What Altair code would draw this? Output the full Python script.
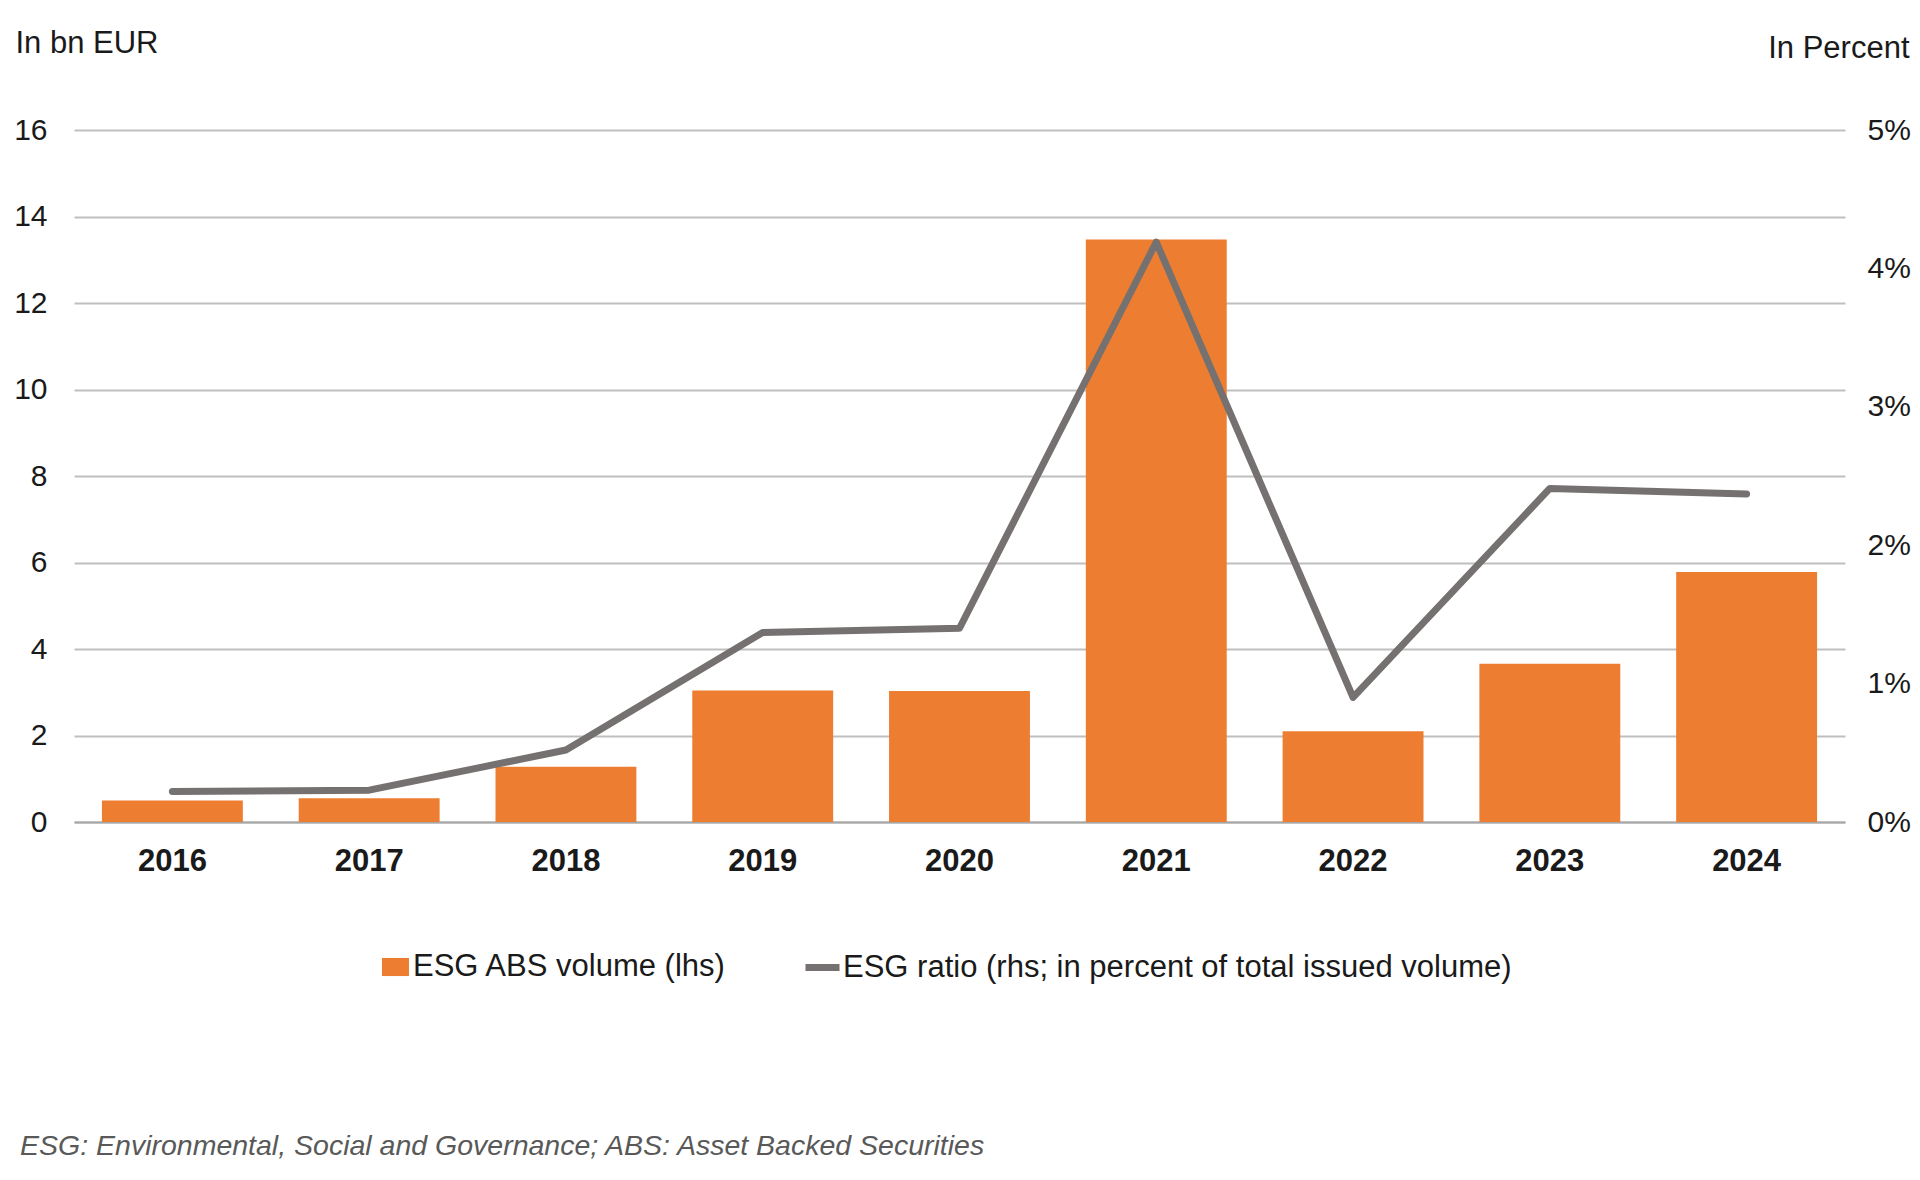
import altair as alt
import pandas as pd

years = ["2016", "2017", "2018", "2019", "2020", "2021", "2022", "2023", "2024"]
volume = [0.50, 0.55, 1.28, 3.04, 3.03, 13.47, 2.10, 3.66, 5.78]
ratio = [0.22, 0.23, 0.52, 1.37, 1.40, 4.19, 0.90, 2.41, 2.37]
left_ticks = [0, 2, 4, 6, 8, 10, 12, 14, 16]
right_ticks = [0, 1, 2, 3, 4, 5]
bar_name = "ESG ABS volume (lhs)"
line_name = "ESG ratio (rhs; in percent of total issued volume)"
left_title = "In bn EUR"
right_title = "In Percent"
footnote = "ESG: Environmental, Social and Governance; ABS: Asset Backed Securities"

df = pd.DataFrame({
    "year": years,
    "volume": volume,
    "ratio": ratio,
    "bar_series": [bar_name] * len(years),
    "line_series": [line_name] * len(years),
})

FONT = "Liberation Sans"
TXT = "#1a1a1a"
W, H = 1771, 692

x = alt.X(
    "year:N", sort=years,
    scale=alt.Scale(paddingInner=0.284, paddingOuter=0.142),
    axis=alt.Axis(
        title=None, labelFont=FONT, labelFontSize=31, labelFontWeight="bold",
        labelColor=TXT, labelAngle=0, ticks=False, tickSize=0, labelPadding=48,
        labelBaseline="alphabetic", domain=True, domainColor="#A6A6A6",
        domainWidth=2, grid=False,
    ),
)

bars = alt.Chart(df).mark_bar(color="#ED7D31").encode(
    x=x,
    y=alt.Y(
        "volume:Q",
        scale=alt.Scale(domain=[0, 16], nice=False),
        axis=alt.Axis(
            values=left_ticks, title=left_title, titleAngle=0, titleAlign="left",
            titleBaseline="alphabetic", titleX=-59, titleY=-78, titleFont=FONT,
            titleFontSize=31, titleFontWeight="normal", titleColor=TXT,
            labelFont=FONT, labelFontSize=30, labelColor=TXT, labelPadding=27,
            ticks=False, tickSize=0, domain=False, grid=True,
            gridColor="#BFBFBF", gridWidth=2,
        ),
    ),
    fill=alt.Fill(
        "bar_series:N",
        scale=alt.Scale(domain=[bar_name], range=["#ED7D31"]),
        legend=alt.Legend(
            title=None, orient="none", legendX=306, legendY=821.5,
            symbolType="M-1,-0.67H1V0.67H-1Z", symbolSize=729,
            symbolStrokeWidth=0, labelFont=FONT, labelFontSize=31,
            labelColor=TXT, labelOffset=2, padding=0, labelLimit=0,
        ),
    ),
)

line = alt.Chart(df).mark_line(
    strokeWidth=7, strokeCap="round", strokeJoin="round"
).encode(
    x=x,
    y=alt.Y(
        "ratio:Q",
        scale=alt.Scale(domain=[0, 5], nice=False),
        axis=alt.Axis(
            orient="right", values=right_ticks, labelExpr="datum.value + '%'",
            title=right_title, titleAngle=0, titleAlign="right",
            titleBaseline="alphabetic", titleX=64, titleY=-73, titleFont=FONT,
            titleFontSize=31, titleFontWeight="normal", titleColor=TXT,
            labelFont=FONT, labelFontSize=30, labelColor=TXT, labelPadding=22,
            labelAlign="left", ticks=False, tickSize=0, domain=False, grid=False,
        ),
    ),
    stroke=alt.Stroke(
        "line_series:N",
        scale=alt.Scale(domain=[line_name], range=["#767171"]),
        legend=alt.Legend(
            title=None, orient="none", legendX=728, legendY=817,
            symbolType="stroke", symbolSize=1156, symbolStrokeWidth=7,
            labelFont=FONT, labelFontSize=31, labelColor=TXT, labelOffset=0,
            padding=0, labelLimit=0,
        ),
    ),
)

foot = alt.Chart(pd.DataFrame({"t": [footnote]})).mark_text(
    align="left", baseline="middle", font=FONT, fontSize=28.5,
    fontStyle="italic", color="#595959",
).encode(x=alt.value(-54), y=alt.value(1016), text="t:N")

chart = alt.layer(bars, line, foot).resolve_scale(y="independent").properties(
    width=W, height=H,
    padding={"left": 66, "top": 122, "right": 67, "bottom": 340},
    autosize=alt.AutoSizeParams(type="none"),
).configure_view(stroke=None)

chart.save("out.html", embed_options={"renderer": "svg", "actions": False})
